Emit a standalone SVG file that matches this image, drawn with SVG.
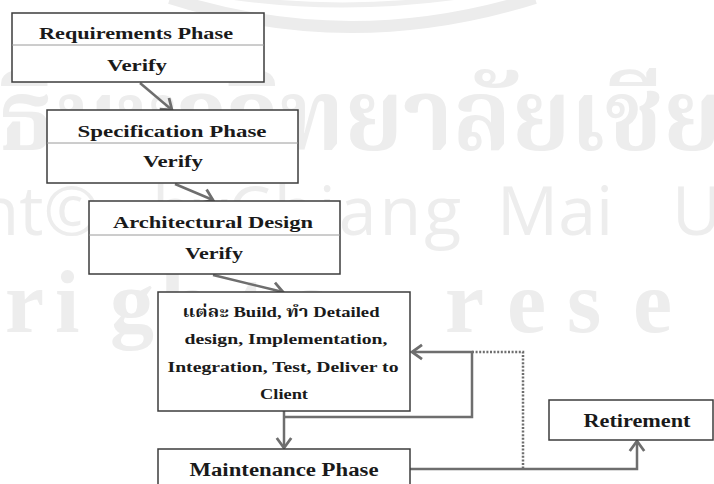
<svg xmlns="http://www.w3.org/2000/svg" width="714" height="484" viewBox="0 0 714 484">
<style>
.wm{fill:#ededed}
.box{fill:#ffffff;stroke:#3c3c3c;stroke-width:1.5}
.div{stroke:#9a9a9a;stroke-width:1}
.t{font-family:"Liberation Serif","Noto Serif Thai","Noto Sans Thai",serif;font-weight:bold;fill:#1a1a1a;text-anchor:middle}
.s16{font-size:16px}
.s15{font-size:15px}
.s18{font-size:18px}
.c{fill:none;stroke:#6e6e6e;stroke-width:2.5}
.dot{fill:none;stroke:#6e6e6e;stroke-width:2.5;stroke-dasharray:2 1.6}
</style>
<defs>
<marker id="arr" markerUnits="userSpaceOnUse" markerWidth="20" markerHeight="20" viewBox="-12 -9 14 18" refX="0" refY="0" orient="auto">
<path d="M -9 -6.5 L 0 0 L -9 6.5" fill="none" stroke="#6e6e6e" stroke-width="2.5"/>
</marker>
</defs>
<rect width="714" height="484" fill="#ffffff"/>
<g id="watermark">
<path d="M 170 -2 Q 350 56 535 -2" fill="none" stroke="#ececec" stroke-width="12"/>
<path d="M 200 -8 Q 340 18 490 -8" fill="none" stroke="#efefef" stroke-width="5"/>
<text class="wm" x="-2" y="150" font-family="Noto Serif Thai, Noto Sans Thai Looped, Loma, Garuda, Noto Sans Thai, sans-serif" font-weight="bold" font-size="100" textLength="935" lengthAdjust="spacingAndGlyphs">ธิ์มหาวิทยาลัยเชียงใหม่</text>
<text class="wm" x="100" y="235" font-family="Open Sans, sans-serif" font-size="68" text-anchor="end">Copyright©</text>
<text class="wm" x="152" y="235" font-family="Open Sans, sans-serif" font-size="68">by</text>
<text class="wm" x="228" y="235" font-family="Open Sans, sans-serif" font-size="68" letter-spacing="3">Chiang</text>
<text class="wm" x="497" y="235" font-family="Open Sans, sans-serif" font-size="68">Mai</text>
<text class="wm" x="672" y="235" font-family="Open Sans, sans-serif" font-size="68">University</text>
<text class="wm" x="-250 -190 -130 -60 5 55 110 160 237 293 370 445 507 567 633 730 790 850 910" y="332" font-family="Liberation Serif, serif" font-weight="bold" font-size="88">All rights reserved</text>
</g>
<g id="connectors">
<line class="c" x1="140" y1="83" x2="172" y2="110" marker-end="url(#arr)"/>
<line class="c" x1="175" y1="184" x2="213" y2="200" marker-end="url(#arr)"/>
<line class="c" x1="213" y1="275" x2="283" y2="292" marker-end="url(#arr)"/>
<line class="c" x1="284" y1="411" x2="284" y2="448" marker-end="url(#arr)"/>
<polyline class="c" points="284,417 472,417 472,352 412,352" marker-end="url(#arr)"/>
<polyline class="dot" points="472,352 523,352 523,469"/>
<polyline class="c" points="410,469 637,469 637,441" marker-end="url(#arr)"/>
</g>
<g id="requirements">
<rect class="box" x="12" y="13" width="252" height="69"/>
<line class="div" x1="12" y1="45" x2="264" y2="45"/>
<text class="t s16" x="136" y="39" textLength="194" lengthAdjust="spacingAndGlyphs">Requirements Phase</text>
<text class="t s16" x="137" y="71" textLength="60" lengthAdjust="spacingAndGlyphs">Verify</text>
</g>
<g id="specification">
<rect class="box" x="47" y="110" width="251" height="73"/>
<line class="div" x1="47" y1="143" x2="298" y2="143"/>
<text class="t s16" x="172" y="137" textLength="189" lengthAdjust="spacingAndGlyphs">Specification Phase</text>
<text class="t s16" x="173" y="167" textLength="60" lengthAdjust="spacingAndGlyphs">Verify</text>
</g>
<g id="architectural">
<rect class="box" x="89" y="201" width="251" height="73"/>
<line class="div" x1="89" y1="235" x2="340" y2="235"/>
<text class="t s16" x="213" y="228" textLength="200" lengthAdjust="spacingAndGlyphs">Architectural Design</text>
<text class="t s16" x="214" y="259" textLength="58" lengthAdjust="spacingAndGlyphs">Verify</text>
</g>
<g id="build">
<rect class="box" x="158" y="292" width="252" height="119"/>
<text class="t s15" x="281" y="317" textLength="197" lengthAdjust="spacingAndGlyphs">แต่ละ Build, ทำ Detailed</text>
<text class="t s15" x="286" y="344" textLength="203" lengthAdjust="spacingAndGlyphs">design, Implementation,</text>
<text class="t s15" x="283" y="372" textLength="231" lengthAdjust="spacingAndGlyphs">Integration, Test, Deliver to</text>
<text class="t s15" x="284" y="399" textLength="48" lengthAdjust="spacingAndGlyphs">Client</text>
</g>
<g id="maintenance">
<rect class="box" x="158" y="449" width="252" height="45"/>
<text class="t s18" x="284" y="476" textLength="189" lengthAdjust="spacingAndGlyphs">Maintenance Phase</text>
</g>
<g id="retirement">
<rect class="box" x="549" y="400" width="164" height="40"/>
<text class="t s18" x="637" y="427" textLength="107" lengthAdjust="spacingAndGlyphs">Retirement</text>
</g>
</svg>
